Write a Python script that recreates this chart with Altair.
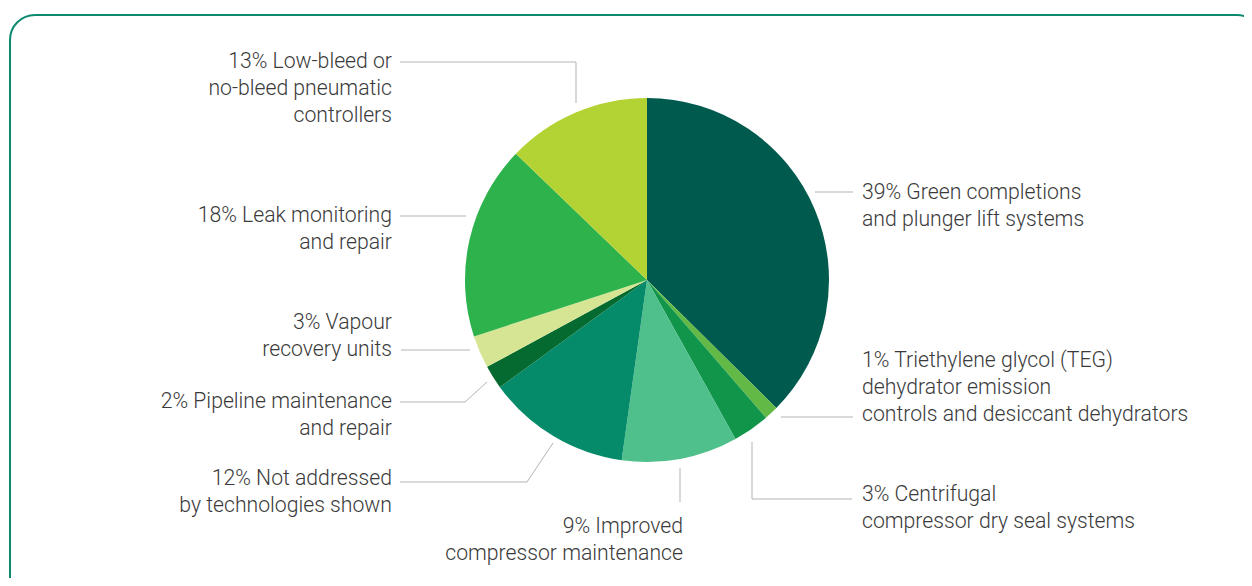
import altair as alt
import pandas as pd

# ---- data ----
categories = [
    "Green completions and plunger lift systems",
    "Triethylene glycol (TEG) dehydrator emission controls and desiccant dehydrators",
    "Centrifugal compressor dry seal systems",
    "Improved compressor maintenance",
    "Not addressed by technologies shown",
    "Pipeline maintenance and repair",
    "Vapour recovery units",
    "Leak monitoring and repair",
    "Low-bleed or no-bleed pneumatic controllers",
]
# slice sizes as drawn in the picture (labels carry the rounded figures)
shares = [37.4, 1.25, 3.25, 10.3, 12.75, 2.1, 2.9, 17.2, 12.8]
colors = ["#005a4e", "#62b946", "#10954a", "#4fbf8c", "#058b6a",
          "#046a2f", "#d6e594", "#2eb24c", "#b3d334"]
label_texts = [
    "39% Green completions\nand plunger lift systems",
    "1% Triethylene glycol (TEG)\ndehydrator emission\ncontrols and desiccant dehydrators",
    "3% Centrifugal\ncompressor dry seal systems",
    "9% Improved\ncompressor maintenance",
    "12% Not addressed\nby technologies shown",
    "2% Pipeline maintenance\nand repair",
    "3% Vapour\nrecovery units",
    "18% Leak monitoring\nand repair",
    "13% Low-bleed or\nno-bleed pneumatic\ncontrollers",
]

# ---- layout (page pixels, minus 8px margin applied below) ----
W, H = 1236, 570
OFF = 8
CX, CY, R = 647 - OFF, 280 - OFF, 182
LINE_H = 27
label_pos = [  # (x anchor, first line centre y, align)
    (862, 193, "left"),
    (862, 361, "left"),
    (862, 495, "left"),
    (683, 527, "right"),
    (392, 479, "right"),
    (392, 402, "right"),
    (392, 323, "right"),
    (392, 216, "right"),
    (392, 62, "right"),
]
leaders = [
    [(815, 192), (853, 192)],
    [(781, 417), (853, 417)],
    [(752, 442), (752, 499), (852, 499)],
    [(680, 468), (680, 502)],
    [(400, 482), (527, 482), (553, 443)],
    [(400, 402), (465, 402), (487, 382)],
    [(401, 350), (470, 350)],
    [(400, 216), (466, 216)],
    [(400, 62), (576, 62), (576, 103)],
]

pie_df = pd.DataFrame({"category": categories, "share": shares,
                       "idx": list(range(len(categories)))})

text_rows = []
for i, (txt, (lx, ly, al)) in enumerate(zip(label_texts, label_pos)):
    for j, line in enumerate(txt.split("\n")):
        text_rows.append({"t": line, "x": lx - OFF, "y": ly - OFF + j * LINE_H, "align": al})
text_df = pd.DataFrame(text_rows)

line_rows = []
for i, pts in enumerate(leaders):
    for j, (px, py) in enumerate(pts):
        line_rows.append({"id": i, "seq": j, "x": px - OFF, "y": py - OFF})
line_df = pd.DataFrame(line_rows)

xs = alt.Scale(domain=[0, W], range=[0, W], nice=False, zero=False)
ys = alt.Scale(domain=[0, H], range=[0, H], nice=False, zero=False)

frame = alt.Chart(pd.DataFrame({"a": [0]})).mark_rect(
    fill=None, stroke="#0b8a6e", strokeWidth=2, cornerRadius=25
).encode(x=alt.value(10 - OFF), x2=alt.value(1262 - OFF),
         y=alt.value(15 - OFF), y2=alt.value(650 - OFF))

pie = alt.Chart(pie_df).mark_arc(radius=R).encode(
    theta=alt.Theta("share:Q", stack=True),
    color=alt.Color("category:N", scale=alt.Scale(domain=categories, range=colors), legend=None),
    order=alt.Order("idx:Q"),
    x=alt.value(CX), y=alt.value(CY),
)

lines = alt.Chart(line_df).mark_line(color="#b3b3b3", strokeWidth=1).encode(
    x=alt.X("x:Q", scale=xs, axis=None),
    y=alt.Y("y:Q", scale=ys, axis=None),
    detail="id:N",
    order="seq:Q",
)

base_text = alt.Chart(text_df).encode(
    x=alt.X("x:Q", scale=xs, axis=None),
    y=alt.Y("y:Q", scale=ys, axis=None),
    text="t:N",
)
txt_kw = dict(font="Roboto", fontSize=21.2, fontWeight=300, color="#3a3a3a", baseline="middle")
left_text = base_text.transform_filter(alt.datum.align == "left").mark_text(align="left", **txt_kw)
right_text = base_text.transform_filter(alt.datum.align == "right").mark_text(align="right", **txt_kw)

chart = alt.layer(frame, pie, lines, left_text, right_text).properties(
    width=W, height=H, padding=0, autosize=alt.AutoSizeParams(type="none")
).configure_view(stroke=None)

chart.save("out.html", embed_options={"renderer": "svg", "actions": False})
